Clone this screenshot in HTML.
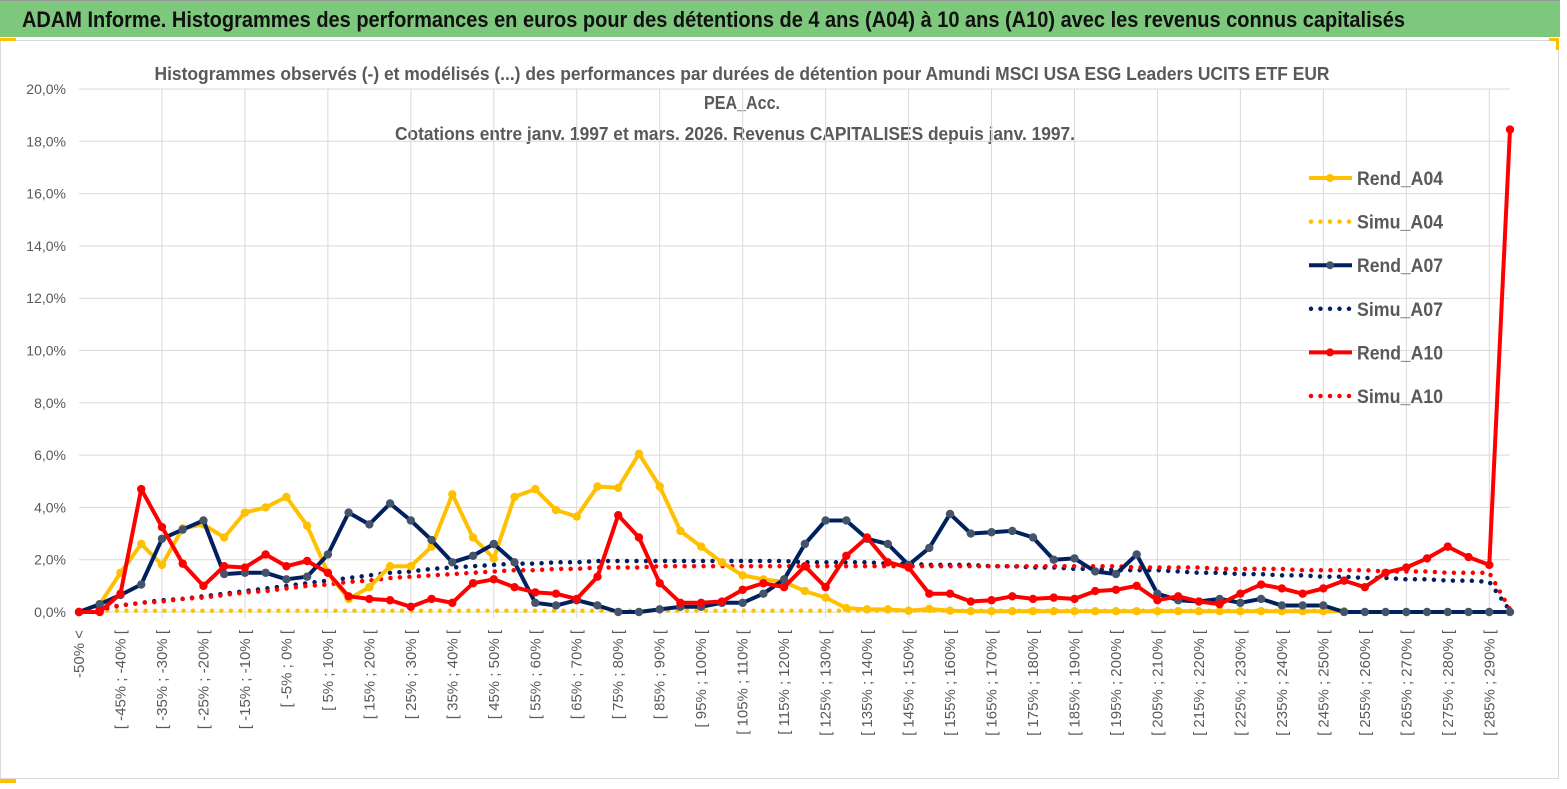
<!DOCTYPE html>
<html><head><meta charset="utf-8"><style>
html,body{margin:0;padding:0;background:#fff;}
svg{display:block;font-family:"Liberation Sans",sans-serif;}
</style></head><body>
<svg id="chart" width="1567" height="789" xmlns="http://www.w3.org/2000/svg">
<rect x="0" y="0" width="1567" height="789" fill="#fff"/>
<rect x="0" y="0" width="1560" height="37" fill="#7dc87c"/>
<line x1="0" y1="0.5" x2="1560" y2="0.5" stroke="#999"/>
<text x="22" y="27" font-size="22" font-weight="bold" fill="#111" textLength="1383" lengthAdjust="spacingAndGlyphs">ADAM Informe. Histogrammes des performances en euros pour des détentions de 4 ans (A04) à 10 ans (A10) avec les revenus connus capitalisés</text>
<rect x="0.5" y="40.5" width="1558" height="738" fill="none" stroke="#d9d9d9"/>
<rect x="0" y="38" width="16" height="3" fill="#ffc000"/>
<rect x="1549" y="38" width="10" height="3" fill="#ffc000"/><rect x="1556" y="38" width="3" height="12" fill="#ffc000"/>
<rect x="0" y="779" width="16" height="4" fill="#ffc000"/>
<g font-weight="bold" font-size="18" fill="#595959" text-anchor="middle">
<text x="742" y="80" textLength="1175" lengthAdjust="spacingAndGlyphs">Histogrammes observés (-) et modélisés (...) des performances par durées de détention pour Amundi MSCI USA ESG Leaders UCITS ETF EUR</text>
<text x="742" y="109" textLength="76" lengthAdjust="spacingAndGlyphs">PEA_Acc.</text>
<text x="735" y="140" textLength="680" lengthAdjust="spacingAndGlyphs">Cotations entre janv. 1997 et mars. 2026. Revenus CAPITALISES depuis janv. 1997.</text>
</g>
<g id="grid"></g><g id="axes"></g><g id="series"></g><g id="legend"></g>
</svg>
<script>
const categories = (function(){ const c=["-50% <"]; for(let i=1;i<70;i++){const a=-55+5*i,b=a+5;c.push("[ "+a+"% ; "+b+"% [");} return c;})();
const yTicks = [0,2,4,6,8,10,12,14,16,18,20];
const yTickLabels = ["0,0%","2,0%","4,0%","6,0%","8,0%","10,0%","12,0%","14,0%","16,0%","18,0%","20,0%"];
const rendA04 = [0,0.3,1.5,2.6,1.8,3.2,3.35,2.85,3.8,4.0,4.4,3.3,1.5,0.5,0.95,1.75,1.75,2.5,4.5,2.85,2.05,4.4,4.7,3.9,3.65,4.8,4.75,6.05,4.8,3.1,2.5,1.9,1.4,1.25,1.15,0.8,0.55,0.15,0.1,0.1,0.05,0.12,0.05,0.03,0.03,0.03,0.03,0.03,0.03,0.03,0.03,0.03,0.03,0.03,0.03,0.03,0.03,0.03,0.03,0.03,0.03,0.03,null,null,null,null,null,null,null,null];
const simuA04 = [0,0.05,0.05,0.05,0.05,0.05,0.05,0.05,0.05,0.05,0.05,0.05,0.05,0.05,0.05,0.05,0.05,0.05,0.05,0.05,0.05,0.05,0.05,0.05,0.05,0.05,0.05,0.05,0.05,0.05,0.05,0.05,0.05,0.05,0.05,0.05,0.05,0.05,0.05,0.05,0.05,0.05,0.05,0.05,0.05,0.05,0.05,0.05,0.05,0.05,0.05,0.05,0.05,0.05,0.05,0.05,0.05,0.05,0.05,0.05,0.05,0.05,null,null,null,null,null,null,null,null];
const rendA07 = [0,0.3,0.65,1.05,2.8,3.15,3.5,1.45,1.5,1.5,1.25,1.35,2.2,3.8,3.35,4.15,3.5,2.75,1.9,2.15,2.6,1.9,0.35,0.25,0.45,0.25,0,0,0.1,0.2,0.2,0.35,0.35,0.7,1.25,2.6,3.5,3.5,2.8,2.6,1.8,2.45,3.75,3.0,3.05,3.1,2.85,2.0,2.05,1.55,1.45,2.2,0.7,0.45,0.4,0.5,0.35,0.5,0.25,0.25,0.25,0,0,0,0,0,0,0,0,0];
const simuA07 = [0,0.1,0.25,0.35,0.45,0.5,0.6,0.7,0.8,0.9,1.0,1.1,1.2,1.3,1.4,1.5,1.55,1.65,1.7,1.75,1.8,1.85,1.85,1.9,1.9,1.95,1.95,1.95,1.95,1.95,1.95,1.95,1.95,1.95,1.95,1.9,1.9,1.9,1.9,1.85,1.85,1.8,1.8,1.8,1.75,1.75,1.7,1.7,1.65,1.65,1.6,1.6,1.6,1.55,1.5,1.5,1.45,1.45,1.4,1.4,1.35,1.35,1.3,1.3,1.25,1.25,1.2,1.2,1.15,0.05];
const rendA10 = [0,0,0.7,4.7,3.25,1.85,1.0,1.75,1.7,2.2,1.75,1.95,1.5,0.6,0.5,0.45,0.2,0.5,0.35,1.1,1.25,0.95,0.75,0.7,0.5,1.35,3.7,2.85,1.1,0.35,0.35,0.4,0.85,1.1,0.95,1.75,0.95,2.15,2.85,1.9,1.7,0.7,0.7,0.4,0.45,0.6,0.5,0.55,0.5,0.8,0.85,1.0,0.45,0.6,0.4,0.3,0.7,1.05,0.9,0.7,0.9,1.2,0.95,1.5,1.7,2.05,2.5,2.1,1.8,18.45];
const simuA10 = [0,0.15,0.25,0.35,0.4,0.5,0.55,0.65,0.75,0.8,0.9,1.0,1.05,1.15,1.2,1.3,1.35,1.4,1.45,1.5,1.55,1.6,1.6,1.65,1.65,1.7,1.7,1.7,1.75,1.75,1.75,1.75,1.75,1.75,1.75,1.75,1.75,1.75,1.75,1.75,1.75,1.75,1.75,1.75,1.75,1.75,1.75,1.75,1.75,1.75,1.75,1.7,1.7,1.7,1.7,1.65,1.65,1.65,1.65,1.6,1.6,1.6,1.6,1.55,1.55,1.55,1.5,1.5,1.5,0.1];

const NS="http://www.w3.org/2000/svg";
const X0=79, X1=1510, Y0=612, Y20=89;
const xScale = i => X0 + i*(X1-X0)/(categories.length-1);
const yScale = v => Y0 - v*(Y0-Y20)/20;
function mk(tag, attrs, parent){const e=document.createElementNS(NS,tag);for(const k in attrs)e.setAttribute(k,attrs[k]);parent.appendChild(e);return e;}
const grid=document.getElementById('grid'), axes=document.getElementById('axes'), ser=document.getElementById('series'), leg=document.getElementById('legend');

yTicks.forEach((t,k)=>{
  const y=yScale(t);
  if(t>0){const l=mk('line',{x1:X0,x2:X1,y1:y,y2:y,stroke:'#d9d9d9','stroke-width':1},grid);
  
  }
  const tx=mk('text',{x:66,y:y+5,'text-anchor':'end','font-size':14,fill:'#595959'},axes);
  tx.textContent=yTickLabels[k];
  
  
});
for(let i=4;i<categories.length;i+=4){
  const x=xScale(i);
  const l=mk('line',{x1:x,x2:x,y1:Y20,y2:Y0+6,stroke:'#d9d9d9','stroke-width':1},grid);
  
  
}
const ax=mk('line',{x1:X0,x2:X1,y1:Y0,y2:Y0,stroke:'#d9d9d9','stroke-width':1},axes);


categories.forEach((c,i)=>{
  if(i%2) return;
  const x=xScale(i)+5, y=630;
  const tx=mk('text',{x:x,y:y,'text-anchor':'end','font-size':15,fill:'#595959',transform:`rotate(-90 ${x} ${y})`},axes);
  tx.textContent=c;
  
  
});

function pathFor(arr){let d='',pen=false;arr.forEach((v,i)=>{if(v===null){pen=false;return;}d+=(pen?'L':'M')+xScale(i).toFixed(1)+' '+yScale(v).toFixed(1)+' ';pen=true;});return d;}
function dotted(arr,color,name){
  const p=mk('path',{d:pathFor(arr),fill:'none',stroke:color,'stroke-width':4.5,'stroke-linecap':'round','stroke-dasharray':'0 9.5'},ser);
  
  
}
function solid(arr,color,mcolor,name){
  const g=mk('g',{},ser);
  
  
  mk('path',{d:pathFor(arr),fill:'none',stroke:color,'stroke-width':4,'stroke-linejoin':'round'},g);
  arr.forEach((v,i)=>{if(v===null)return;
    const c=mk('circle',{cx:xScale(i),cy:yScale(v),r:4.2,fill:mcolor},g);
    
    
  });
}
dotted(simuA04,'#ffc000','simu-a04-line');
dotted(simuA07,'#002060','simu-a07-line');
dotted(simuA10,'#ff0000','simu-a10-line');
solid(rendA04,'#ffc000','#ffc000','rend-a04-line');
solid(rendA07,'#002060','#44546a','rend-a07-line');
solid(rendA10,'#ff0000','#ff0000','rend-a10-line');

const legendItems=[["Rend_A04",'#ffc000',false],["Simu_A04",'#ffc000',true],["Rend_A07",'#002060',false],["Simu_A07",'#002060',true],["Rend_A10",'#ff0000',false],["Simu_A10",'#ff0000',true]];
legendItems.forEach((it,k)=>{
  const y=178+k*43.6;
  const g=mk('g',{},leg);
  
  
  if(it[2]) mk('line',{x1:1311,x2:1350,y1:y,y2:y,stroke:it[1],'stroke-width':4.5,'stroke-linecap':'round','stroke-dasharray':'0 9.5'},g);
  else { mk('line',{x1:1309,x2:1352,y1:y,y2:y,stroke:it[1],'stroke-width':4},g); mk('circle',{cx:1330,cy:y,r:4,fill:it[0]==="Rend_A07"?'#44546a':it[1]},g); }
  const t=mk('text',{x:1357,y:y+7,'font-size':19,'font-weight':'bold',fill:'#595959',textLength:86,lengthAdjust:'spacingAndGlyphs'},g);
  t.textContent=it[0];
});
</script>
</body></html>
